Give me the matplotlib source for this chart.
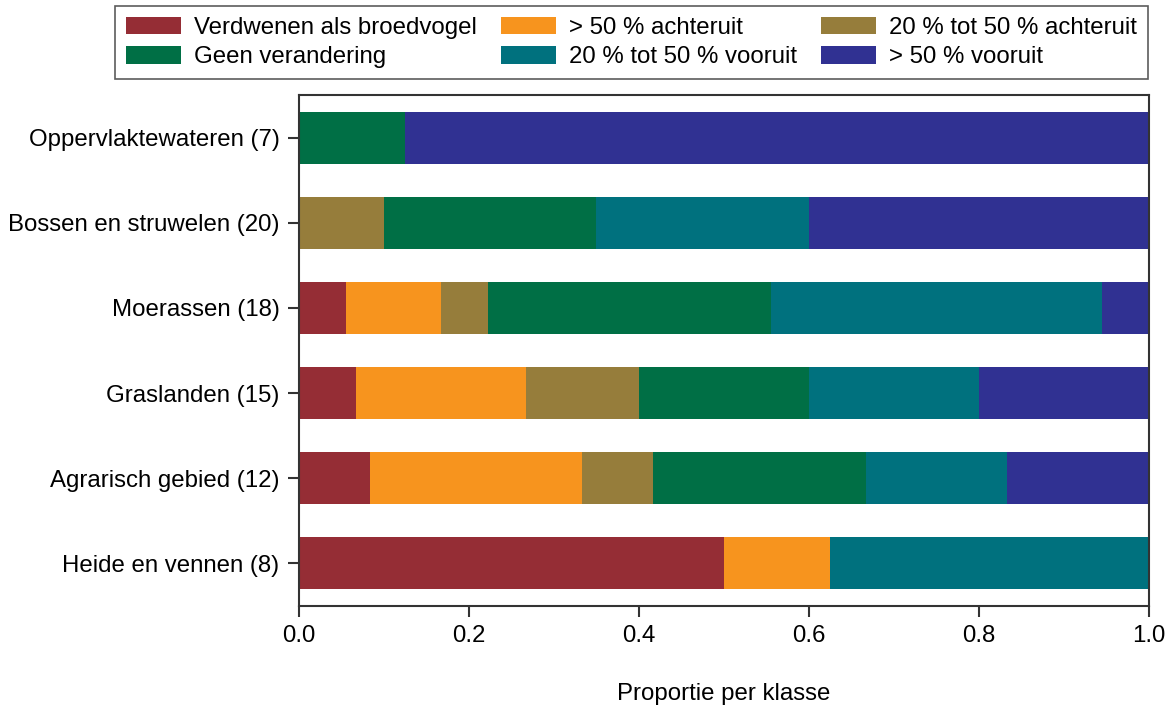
import matplotlib
matplotlib.use("Agg")
import matplotlib.pyplot as plt
import numpy as np

plt.rcParams['font.family'] = ['Liberation Sans', 'DejaVu Sans']

categories = ["Oppervlaktewateren (7)", "Bossen en struwelen (20)", "Moerassen (18)",
              "Graslanden (15)", "Agrarisch gebied (12)", "Heide en vennen (8)"]
series_names = ["Verdwenen als broedvogel", "> 50 % achteruit", "20 % tot 50 % achteruit",
                "Geen verandering", "20 % tot 50 % vooruit", "> 50 % vooruit"]
colors = ["#952D35", "#F7941E", "#967D3B", "#006F45", "#00717E", "#303192"]

verdwenen     = [0.0,   0.0,  1/18, 1/15, 1/12, 0.5]
achteruit_50  = [0.0,   0.0,  2/18, 3/15, 3/12, 0.125]
achteruit_20  = [0.0,   0.10, 1/18, 2/15, 1/12, 0.0]
geen          = [0.125, 0.25, 6/18, 3/15, 3/12, 0.0]
vooruit_20    = [0.0,   0.25, 7/18, 3/15, 2/12, 0.375]
vooruit_50    = [0.875, 0.40, 1/18, 3/15, 2/12, 0.0]
series = [verdwenen, achteruit_50, achteruit_20, geen, vooruit_20, vooruit_50]

FS = 17.3

fig = plt.figure(figsize=(11.72, 7.11), dpi=100)
ax = fig.add_axes([0.2551, 0.1477, 0.7253, 0.7187])

y = np.arange(len(categories))[::-1]
left = np.zeros(len(categories))
handles = []
for name, vals, c in zip(series_names, series, colors):
    vals = np.array(vals)
    h = ax.barh(y, vals, left=left, height=0.61, color=c, label=name, linewidth=0)
    handles.append(h)
    left += vals

ax.set_xlim(0, 1)
ax.set_ylim(-0.5, 5.5)
ax.set_yticks(y)
ax.set_yticklabels(categories)
ax.set_xticks([0, 0.2, 0.4, 0.6, 0.8, 1.0])
ax.set_xticklabels(["0.0", "0.2", "0.4", "0.6", "0.8", "1.0"])
ax.tick_params(axis='both', labelsize=FS, length=8, width=1.5, color='#333333', direction='out')
ax.tick_params(axis='x', pad=5.5)
ax.tick_params(axis='y', pad=6)
for s in ax.spines.values():
    s.set_linewidth(1.5)
    s.set_color('#333333')
ax.set_xlabel("Proportie per klasse", fontsize=FS, labelpad=26)

order = [0, 3, 1, 4, 2, 5]
leg = fig.legend([handles[i] for i in order], [series_names[i] for i in order],
                 ncol=3, loc='upper left', bbox_to_anchor=(115/1172, 1 - 6/711),
                 fontsize=FS, frameon=True, fancybox=False, edgecolor='#333333',
                 handlelength=2.29, handleheight=0.75, columnspacing=1.0,
                 labelspacing=0.31, borderpad=0.44, handletextpad=0.55, borderaxespad=0)
leg.get_frame().set_linewidth(1.2)

fig.savefig("out.png", dpi=100)
